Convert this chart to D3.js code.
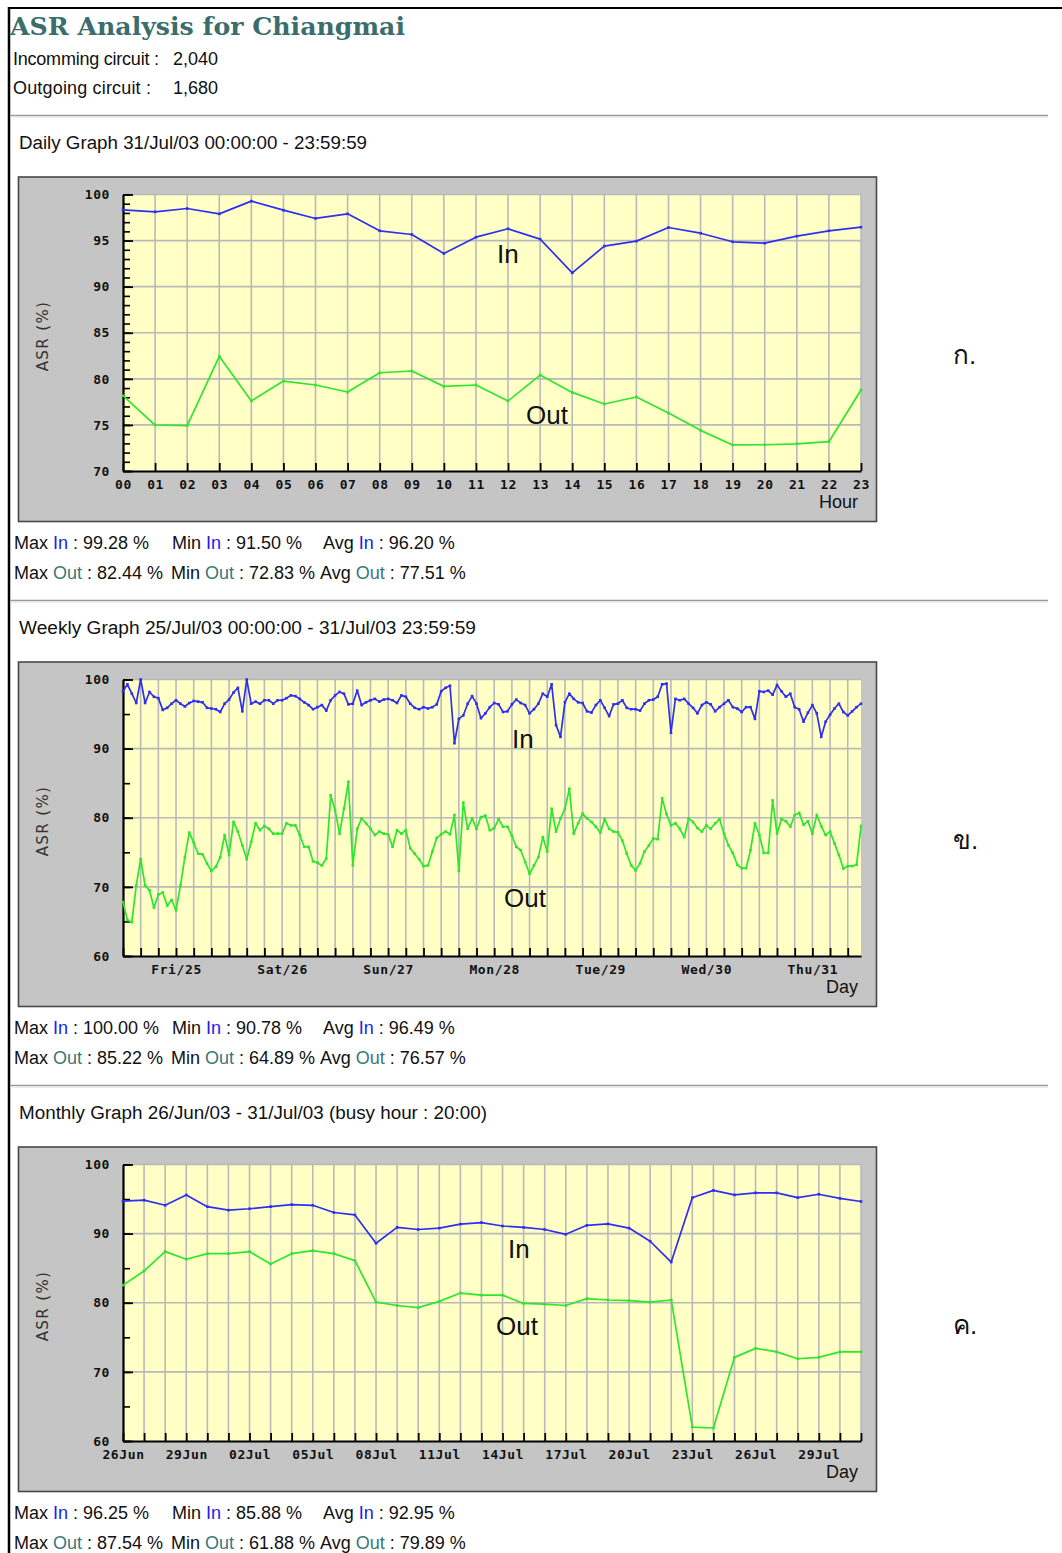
<!DOCTYPE html>
<html>
<head>
<meta charset="utf-8">
<title>ASR Analysis for Chiangmai</title>
<script src="https://cdn.jsdelivr.net/npm/d3@7"></script>
<style>
  body { margin: 0; background: #ffffff; }
  svg { display: block; }
  text { white-space: pre; }
</style>
</head>
<body>
<svg id="page" width="1062" height="1553"></svg>
<script>
// ---------- data ----------
const pageTitle = "ASR Analysis for Chiangmai";
const circuitLabels = ["Incomming circuit :", "Outgoing circuit :"];
const circuitValues = ["2,040", "1,680"];

const sectionTitles = [
  "Daily Graph 31/Jul/03 00:00:00 - 23:59:59",
  "Weekly Graph 25/Jul/03 00:00:00 - 31/Jul/03 23:59:59",
  "Monthly Graph 26/Jun/03 - 31/Jul/03 (busy hour : 20:00)"
];
const sectionMarks = ["ก.", "ข.", "ค."];
const xAxisNames = ["Hour", "Day", "Day"];
const statNames = ["Max", "Min", "Avg"];

// Daily (hourly ASR, 31 Jul 03)
const dailyHours = ["00","01","02","03","04","05","06","07","08","09","10","11",
                    "12","13","14","15","16","17","18","19","20","21","22","23"];
const dailyIn = [98.34, 98.12, 98.48, 97.90, 99.28, 98.30, 97.40, 97.90, 96.06, 95.66, 93.60, 95.37,
                 96.28, 95.16, 91.50, 94.40, 94.94, 96.42, 95.80, 94.87, 94.72, 95.48, 96.06, 96.46];
const dailyOut = [78.17, 74.99, 74.92, 82.44, 77.60, 79.76, 79.33, 78.57, 80.66, 80.85, 79.18, 79.33,
                  77.60, 80.41, 78.53, 77.27, 78.03, 76.30, 74.41, 72.83, 72.85, 72.95, 73.18, 78.79];
const dailyStatsIn = [99.28, 91.50, 96.20];
const dailyStatsOut = [82.44, 72.83, 77.51];

// Weekly (hourly ASR, 25 Jul - 31 Jul 03)
const weeklyDayLabels = ["Fri/25", "Sat/26", "Sun/27", "Mon/28", "Tue/29", "Wed/30", "Thu/31"];
const weeklyIn = [
  98.3, 99.3, 97.95, 96.6, 100.0, 96.6, 98.2, 97.5, 97.3, 95.6,
  95.9, 96.5, 97.0, 96.5, 96.1, 96.6, 96.9, 96.8, 96.7, 95.9,
  95.8, 95.7, 95.3, 96.5, 97.1, 98.1, 98.8, 95.4, 100.0, 96.5,
  96.8, 96.5, 97.0, 97.0, 96.5, 97.0, 97.0, 97.3, 97.7, 97.6,
  97.2, 96.7, 96.3, 95.7, 96.0, 96.3, 95.5, 97.0, 97.7, 98.2,
  97.95, 96.4, 96.5, 98.4, 96.3, 96.7,
  97.0, 97.2, 96.8, 97.1, 97.2, 97.0, 96.6, 97.7, 97.5, 96.5,
  95.9, 95.7, 96.0, 95.8, 96.0, 96.4, 98.3, 98.8, 99.1, 90.78,
  94.3, 94.8, 96.5, 97.6, 96.5, 94.4, 95.1, 96.0, 96.6, 96.4,
  95.3, 95.4, 96.4, 97.1, 96.6, 96.3, 95.1, 95.7, 96.5, 97.95,
  97.5, 99.3, 93.4, 91.7, 96.7, 97.95, 97.2, 96.7, 96.6, 95.4,
  95.2, 96.3, 97.0, 95.9, 94.7, 96.4,
  96.5, 97.0, 95.9, 95.7, 95.7, 95.5, 96.5, 97.0, 97.1, 97.5,
  99.3, 99.4, 92.3, 97.2, 97.0, 97.2, 96.5, 95.9, 95.1, 96.3,
  96.7, 96.4, 95.4, 96.0, 96.5, 97.0, 96.0, 95.8, 95.3, 96.0,
  96.0, 94.3, 98.3, 98.2, 98.4, 97.8, 99.2, 98.3, 97.5, 97.95,
  96.0, 95.7, 93.9, 95.2, 96.3, 95.1, 91.7, 93.9, 94.9, 95.8,
  96.5, 95.3, 94.8, 95.4, 96.0, 96.5
];
const weeklyOut = [
  67.8, 65.2, 64.89, 70.2, 74.0, 70.2, 69.5, 67.0, 68.9, 69.2,
  67.3, 68.1, 66.6, 70.2, 74.3, 77.85, 76.4, 74.8, 74.7, 73.4,
  72.3, 72.9, 74.3, 77.5, 74.6, 79.4, 78.0, 76.0, 74.0, 76.5,
  79.2, 78.2, 78.8, 78.4, 77.7, 77.7, 77.7, 79.2, 78.9, 78.9,
  77.5, 75.8, 75.8, 73.7, 73.5, 73.1, 74.1, 83.25, 81.1, 77.7,
  81.3, 85.22, 73.1, 78.4, 79.9, 79.2,
  78.4, 77.5, 78.0, 77.7, 77.6, 75.8, 78.2, 77.7, 78.2, 75.6,
  74.8, 74.0, 73.0, 73.1, 75.1, 77.1, 77.6, 78.0, 77.6, 80.4,
  72.3, 82.2, 78.4, 79.9, 78.4, 80.1, 80.3, 78.2, 78.5, 79.8,
  78.7, 78.7, 77.4, 75.8, 75.3, 73.6, 71.9, 73.1, 74.3, 77.2,
  75.1, 81.3, 78.0, 79.9, 81.3, 84.2, 77.7, 79.2, 80.6, 79.9,
  79.4, 78.7, 77.85, 79.8, 78.4, 78.0,
  77.9, 76.7, 74.8, 73.1, 72.4, 73.4, 75.1, 76.0, 77.0, 76.9,
  82.8, 80.5, 78.9, 79.2, 78.4, 77.2, 79.9, 79.4, 78.5, 78.0,
  78.9, 78.4, 79.2, 79.8, 77.7, 76.0, 74.9, 73.2, 72.7, 72.7,
  75.3, 79.2, 77.5, 74.9, 74.9, 82.5, 77.7, 79.8, 79.5, 78.7,
  80.4, 80.7, 79.0, 79.5, 77.7, 80.4, 78.8, 77.5, 78.0, 76.3,
  74.6, 72.65, 73.0, 73.0, 73.2, 78.8
];
const weeklyStatsIn = [100.00, 90.78, 96.49];
const weeklyStatsOut = [85.22, 64.89, 76.57];

// Monthly (busy-hour ASR per day, 26 Jun - 31 Jul 03)
const monthlyDateLabels = ["26Jun", "29Jun", "02Jul", "05Jul", "08Jul", "11Jul",
                           "14Jul", "17Jul", "20Jul", "23Jul", "26Jul", "29Jul"];
const monthlyIn = [94.7, 94.84, 94.1, 95.6, 93.9, 93.4, 93.6, 93.9, 94.2, 94.1, 93.06, 92.7,
                   88.6, 90.9, 90.6, 90.8, 91.37, 91.6, 91.1, 90.9, 90.6, 89.9, 91.2, 91.4,
                   90.8, 88.9, 85.88, 95.2, 96.25, 95.6, 95.9, 95.9, 95.2, 95.7, 95.1, 94.65];
const monthlyOut = [82.55, 84.6, 87.4, 86.3, 87.1, 87.1, 87.4, 85.6, 87.1, 87.54, 87.1, 86.1,
                    80.1, 79.6, 79.3, 80.2, 81.4, 81.1, 81.1, 79.9, 79.8, 79.6, 80.6, 80.4,
                    80.3, 80.1, 80.4, 62.0, 61.88, 72.1, 73.4, 72.9, 71.9, 72.1, 72.9, 72.9];
const monthlyStatsIn = [96.25, 85.88, 92.95];
const monthlyStatsOut = [87.54, 61.88, 79.89];

// ---------- styles ----------
const SANS = "'Liberation Sans', Arial, sans-serif";
const MONO = "'DejaVu Sans Mono', monospace";
const COL_IN = "#2f2ff2";
const COL_OUT = "#2ee62e";
const COL_IN_TXT = "#1c1cf0";
const COL_OUT_TXT = "#3a7878";
const COL_TITLE = "#3b6d6d";

const svg = d3.select("#page");
const STEP = 485;
const PLOT_L = 123, PLOT_R = 861;
const BOX_L = 18.5, BOX_R = 876.5;
const fmt = d3.format(".2f");
const titleWidths = [348, 457, 468];

// ---------- page frame and header ----------
svg.append("line").attr("x1", 9).attr("x2", 9).attr("y1", 7).attr("y2", 1553)
  .attr("stroke", "#000").attr("stroke-width", 2.5);
svg.append("line").attr("x1", 8).attr("x2", 1062).attr("y1", 8).attr("y2", 8)
  .attr("stroke", "#000").attr("stroke-width", 2);

svg.append("text").attr("x", 10).attr("y", 35)
  .attr("font-family", "'DejaVu Serif', serif").attr("font-weight", "bold")
  .attr("font-size", 24).attr("fill", COL_TITLE)
  .attr("textLength", 395).attr("lengthAdjust", "spacingAndGlyphs")
  .text(pageTitle);

circuitLabels.forEach((lab, i) => {
  const yy = 65 + i * 29;
  svg.append("text").attr("x", 13).attr("y", yy).attr("font-family", SANS)
    .attr("font-size", 18).attr("fill", "#111")
    .attr("textLength", i === 0 ? 146 : 138).attr("lengthAdjust", "spacing").text(lab);
  svg.append("text").attr("x", 173).attr("y", yy).attr("font-family", SANS)
    .attr("font-size", 18).attr("fill", "#111").text(circuitValues[i]);
});

// ---------- one section: rule, title, chart, stats ----------
function drawSection(k, cfg) {
  const off = k * STEP;
  // separator rule
  svg.append("line").attr("x1", 10).attr("x2", 1048).attr("y1", 115.5 + off).attr("y2", 115.5 + off)
    .attr("stroke", "#9a9a9a").attr("stroke-width", 1.6);
  svg.append("line").attr("x1", 10).attr("x2", 1048).attr("y1", 117.2 + off).attr("y2", 117.2 + off)
    .attr("stroke", "#e4e4e4").attr("stroke-width", 1);

  svg.append("text").attr("x", 19).attr("y", 149 + off).attr("font-family", SANS)
    .attr("font-size", 18).attr("fill", "#111")
    .attr("textLength", titleWidths[k]).attr("lengthAdjust", "spacingAndGlyphs")
    .text(sectionTitles[k]);

  // chart frame
  const T = 177 + off;
  const top = T + 17.5, bottom = T + 294;
  const g = svg.append("g");
  g.append("rect").attr("x", BOX_L).attr("y", T).attr("width", BOX_R - BOX_L).attr("height", 344.5)
    .attr("fill", "#c5c5c5").attr("stroke", "#484848").attr("stroke-width", 1.6);
  g.append("rect").attr("x", PLOT_L).attr("y", top).attr("width", PLOT_R - PLOT_L)
    .attr("height", bottom - top).attr("fill", "#ffffc6");

  const x = d3.scaleLinear().domain(cfg.xDomain).range([PLOT_L, PLOT_R]);
  const y = d3.scaleLinear().domain(cfg.yDomain).range([bottom, top]);

  // grid
  g.append("g").selectAll("line").data(cfg.gridX).join("line")
    .attr("x1", d => x(d)).attr("x2", d => x(d)).attr("y1", top).attr("y2", bottom)
    .attr("stroke", "#b9b9b9").attr("stroke-width", 1.6);
  g.append("g").selectAll("line").data(cfg.gridY).join("line")
    .attr("x1", PLOT_L).attr("x2", PLOT_R).attr("y1", d => y(d)).attr("y2", d => y(d))
    .attr("stroke", "#b9b9b9").attr("stroke-width", 1.6);

  // y axis: minor ticks, then labelled major ticks (ticks point into the plot)
  const yMinor = g.append("g").attr("transform", `translate(${PLOT_L},0)`)
    .call(d3.axisLeft(y).tickValues(cfg.yMinor).tickSizeInner(-7).tickSizeOuter(0).tickFormat(""));
  yMinor.select(".domain").remove();
  yMinor.selectAll("line").attr("stroke", "#000").attr("stroke-width", 1.6);

  const yAx = g.append("g").attr("transform", `translate(${PLOT_L},0)`)
    .call(d3.axisLeft(y).tickValues(cfg.yMajor).tickSizeInner(-10).tickSizeOuter(0).tickPadding(13));
  yAx.select(".domain").attr("stroke", "#000").attr("stroke-width", 2.2);
  yAx.selectAll("line").attr("stroke", "#000").attr("stroke-width", 1.8);
  yAx.selectAll("text").attr("font-family", MONO).attr("font-weight", "bold")
    .attr("font-size", 13).attr("letter-spacing", 0.6).attr("fill", "#111");

  // x axis: ticks at every grid step, labels separately
  const xTicks = g.append("g").attr("transform", `translate(0,${bottom})`)
    .call(d3.axisBottom(x).tickValues(cfg.gridX).tickSizeInner(-8).tickSizeOuter(0).tickFormat(""));
  xTicks.select(".domain").attr("stroke", "#000").attr("stroke-width", 2.2);
  xTicks.selectAll("line").attr("stroke", "#000").attr("stroke-width", 1.8);

  const xLab = g.append("g").attr("transform", `translate(0,${bottom})`)
    .call(d3.axisBottom(x).tickValues(cfg.labelAt).tickSize(0).tickPadding(9)
      .tickFormat((d, i) => cfg.labels[i]));
  xLab.select(".domain").remove();
  xLab.selectAll("text").attr("font-family", MONO).attr("font-weight", "bold")
    .attr("font-size", 13).attr("letter-spacing", 0.6).attr("fill", "#111");

  // axis names
  g.append("text").attr("transform", `translate(48,${T + 159}) rotate(-90)`)
    .attr("text-anchor", "middle").attr("font-family", "'DejaVu Sans', sans-serif")
    .attr("font-size", 15).attr("letter-spacing", 1.4).attr("fill", "#333").text("ASR (%)");
  g.append("text").attr("x", 858).attr("y", T + 331).attr("text-anchor", "end")
    .attr("font-family", SANS).attr("font-size", 18).attr("fill", "#111").text(xAxisNames[k]);

  // series
  const line = d3.line().x((d, i) => x(i)).y(d => y(d));
  [[cfg.outData, COL_OUT], [cfg.inData, COL_IN]].forEach(([data, col]) => {
    g.append("path").datum(data).attr("d", line).attr("fill", "none")
      .attr("stroke", col).attr("stroke-width", 1.7).attr("stroke-linejoin", "round");
    g.append("g").selectAll("rect").data(data).join("rect")
      .attr("x", (d, i) => x(i) - 1.3).attr("y", d => y(d) - 1.3)
      .attr("width", 2.6).attr("height", 2.6).attr("fill", col);
  });

  // series names inside the plot
  g.append("text").attr("x", cfg.inPos[0]).attr("y", cfg.inPos[1]).attr("font-family", SANS)
    .attr("font-size", 26).attr("fill", "#111").text("In");
  g.append("text").attr("x", cfg.outPos[0]).attr("y", cfg.outPos[1]).attr("font-family", SANS)
    .attr("font-size", 26).attr("fill", "#111").text("Out");

  // Thai section mark on the right
  svg.append("text").attr("x", 953).attr("y", 364 + off).attr("font-family", "sans-serif")
    .attr("font-size", 26).attr("fill", "#111").text(sectionMarks[k]);

  // statistics
  const rows = [
    { name: "In", col: COL_IN_TXT, vals: cfg.statsIn, xs: [14, 172, 323], yy: 549 + off },
    { name: "Out", col: COL_OUT_TXT, vals: cfg.statsOut, xs: [14, 171, 320], yy: 579 + off }
  ];
  rows.forEach(r => {
    statNames.forEach((s, j) => {
      const t = svg.append("text").attr("x", r.xs[j]).attr("y", r.yy)
        .attr("font-family", SANS).attr("font-size", 18).attr("fill", "#111");
      t.append("tspan").text(s + " ");
      t.append("tspan").attr("fill", r.col).text(r.name);
      t.append("tspan").text(" : " + fmt(r.vals[j]) + " %");
    });
  });
}

// daily
drawSection(0, {
  xDomain: [0, dailyHours.length - 1],
  yDomain: [70, 100],
  gridX: d3.range(0, dailyHours.length),
  gridY: d3.range(75, 101, 5),
  yMajor: d3.range(70, 101, 5),
  yMinor: d3.range(70, 101, 1),
  labelAt: d3.range(0, dailyHours.length),
  labels: dailyHours,
  inData: dailyIn, outData: dailyOut,
  statsIn: dailyStatsIn, statsOut: dailyStatsOut,
  inPos: [497, 263], outPos: [526, 424]
});

// weekly (hourly points, grid every 4 hours, labels at midday)
drawSection(1, {
  xDomain: [0, weeklyIn.length - 1],
  yDomain: [60, 100],
  gridX: d3.range(0, weeklyIn.length, 4),
  gridY: d3.range(70, 101, 10),
  yMajor: d3.range(60, 101, 10),
  yMinor: d3.range(60, 101, 5),
  labelAt: weeklyDayLabels.map((d, i) => 12 + i * 24),
  labels: weeklyDayLabels,
  inData: weeklyIn, outData: weeklyOut,
  statsIn: weeklyStatsIn, statsOut: weeklyStatsOut,
  inPos: [512, 748], outPos: [504, 907]
});

// monthly (one point per day, labels every third day)
drawSection(2, {
  xDomain: [0, monthlyIn.length - 1],
  yDomain: [60, 100],
  gridX: d3.range(0, monthlyIn.length),
  gridY: d3.range(70, 101, 10),
  yMajor: d3.range(60, 101, 10),
  yMinor: d3.range(60, 101, 5),
  labelAt: monthlyDateLabels.map((d, i) => i * 3),
  labels: monthlyDateLabels,
  inData: monthlyIn, outData: monthlyOut,
  statsIn: monthlyStatsIn, statsOut: monthlyStatsOut,
  inPos: [508, 1258], outPos: [496, 1335]
});
</script>
</body>
</html>
